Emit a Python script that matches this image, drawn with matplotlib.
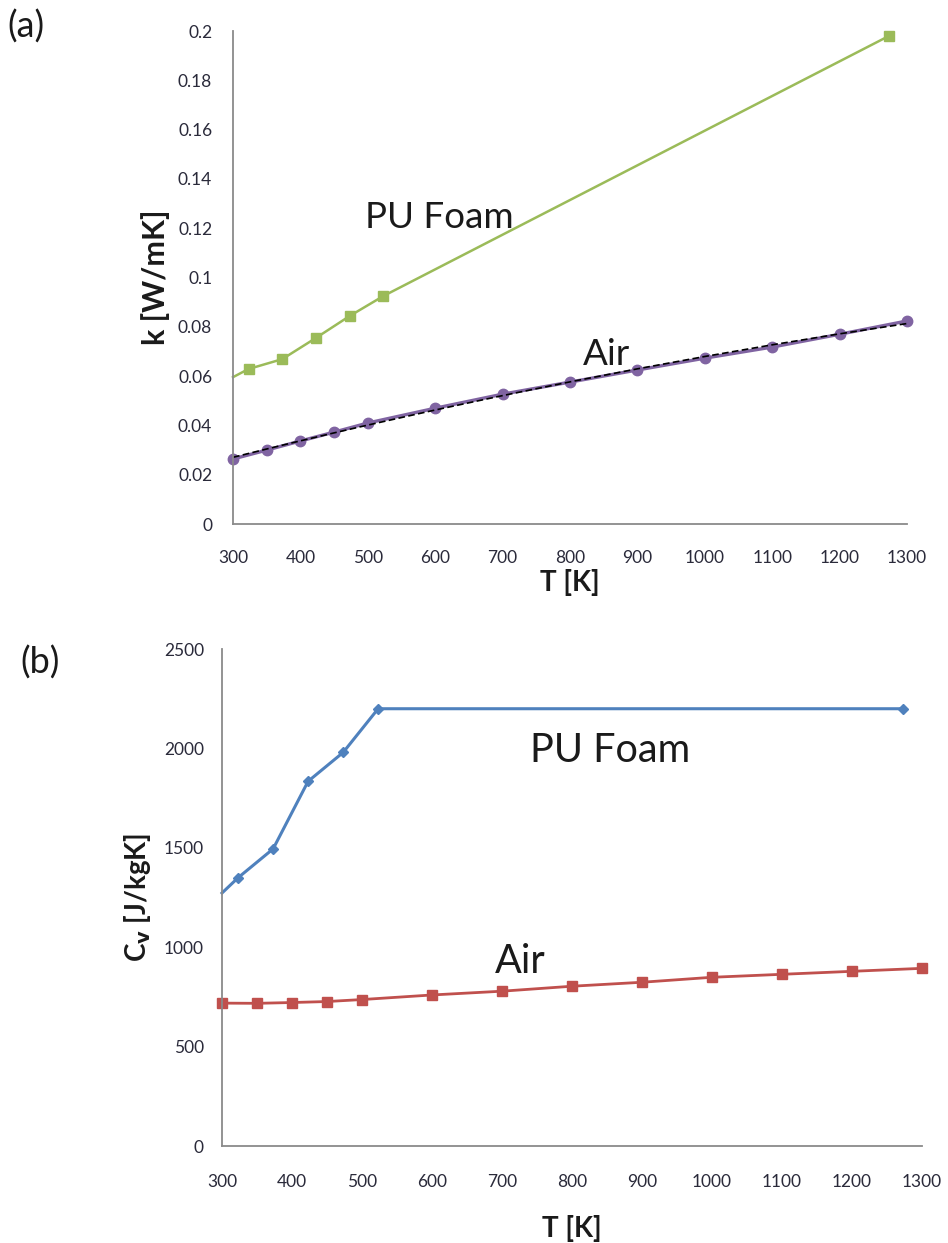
import numpy as np
import matplotlib.pyplot as plt

plt.rcParams['font.family'] = ['Lato', 'DejaVu Sans']

# thermal conductivity k [W/mK]
T_pu_k = [300, 323, 373, 423, 473, 523, 1273]
k_pu = [0.0596, 0.0629, 0.0669, 0.0755, 0.0844, 0.0925, 0.198]
T_air = [300, 350, 400, 450, 500, 600, 700, 800, 900, 1000, 1100, 1200, 1300]
k_air = [0.0264, 0.030, 0.0337, 0.0373, 0.041, 0.047, 0.0527, 0.0576, 0.0625,
         0.0673, 0.0718, 0.077, 0.0824]

# specific heat Cv [J/kgK]
T_pu_c = [300, 323, 373, 423, 473, 523, 1273]
cv_pu = [1273, 1350, 1495, 1835, 1980, 2200, 2200]
cv_air = [719, 718, 722, 727, 737, 760, 779, 804, 824, 849, 864, 879, 894]

xticks = [300, 400, 500, 600, 700, 800, 900, 1000, 1100, 1200, 1300]
k_ticks = [0, 0.02, 0.04, 0.06, 0.08, 0.1, 0.12, 0.14, 0.16, 0.18, 0.2]
k_ticklabels = ['0', '0.02', '0.04', '0.06', '0.08', '0.1', '0.12', '0.14',
                '0.16', '0.18', '0.2']
cv_ticks = [0, 500, 1000, 1500, 2000, 2500]

# polynomial trendline through the air conductivity points
k_fit = np.polyval(np.polyfit(T_air, k_air, 2), T_air)

txt = '#1a1a1a'

fig = plt.figure(figsize=(9.48, 12.43), dpi=100)
ax1 = fig.add_axes([0.2458, 0.5784, 0.7110, 0.3966])
ax2 = fig.add_axes([0.2342, 0.0780, 0.7384, 0.3998])

for ax in (ax1, ax2):
    for s in ('top', 'right'):
        ax.spines[s].set_visible(False)
    for s in ('left', 'bottom'):
        ax.spines[s].set_color('#8a8a8a')
        ax.spines[s].set_linewidth(1.3)
    ax.set_xlim(300, 1300)
    ax.set_xticks(xticks)
    ax.tick_params(length=0, labelsize=12.5, colors='#2a2a3a')

# (a) conductivity
ax1.plot(T_pu_k, k_pu, color='#9bbb59', lw=1.8, marker='s', ms=7.5,
         markevery=list(range(1, len(T_pu_k))), clip_on=False)
ax1.plot(T_air, k_air, color='#8064a2', lw=2.4, marker='o', ms=7.5,
         clip_on=False)
ax1.plot(T_air, k_fit, color='black', lw=1.2, ls=(0, (4, 2)))
ax1.set_ylim(0, 0.2)
ax1.set_yticks(k_ticks)
ax1.set_yticklabels(k_ticklabels)
ax1.tick_params(axis='x', pad=19)
ax1.tick_params(axis='y', pad=15)
ax1.set_xlabel('T [K]', fontsize=20, fontweight='bold', labelpad=2, color=txt)
ax1.set_ylabel('k [W/mK]', fontsize=22, fontweight='bold', labelpad=6,
               color=txt)
ax1.text(496, 0.120, 'PU Foam', fontsize=26.5, color=txt, va='baseline')
ax1.text(819, 0.0645, 'Air', fontsize=26.5, color=txt, va='baseline')

# (b) specific heat
ax2.plot(T_pu_c, cv_pu, color='#4f81bd', lw=2.2, marker='D', ms=5.5,
         markevery=list(range(1, len(T_pu_c))), clip_on=False)
ax2.plot(T_air, cv_air, color='#c0504d', lw=2, marker='s', ms=7.5,
         clip_on=False)
ax2.set_ylim(0, 2500)
ax2.set_yticks(cv_ticks)
ax2.tick_params(axis='x', pad=20)
ax2.tick_params(axis='y', pad=13)
ax2.set_xlabel('T [K]', fontsize=20, fontweight='bold', labelpad=18, color=txt)
ax2.set_ylabel(r'C$_\mathbf{v}$ [J/kgK]', fontsize=20, fontweight='bold',
               labelpad=8, color=txt)
ax2.text(740, 1931, 'PU Foam', fontsize=28.5, color=txt, va='baseline')
ax2.text(690, 870, 'Air', fontsize=28.5, color=txt, va='baseline')

fig.text(0.008, 0.992, '(a)', fontsize=26, color=txt, va='top')
fig.text(0.022, 0.481, '(b)', fontsize=26, color=txt, va='top')

fig.savefig('out.png', dpi=100)
